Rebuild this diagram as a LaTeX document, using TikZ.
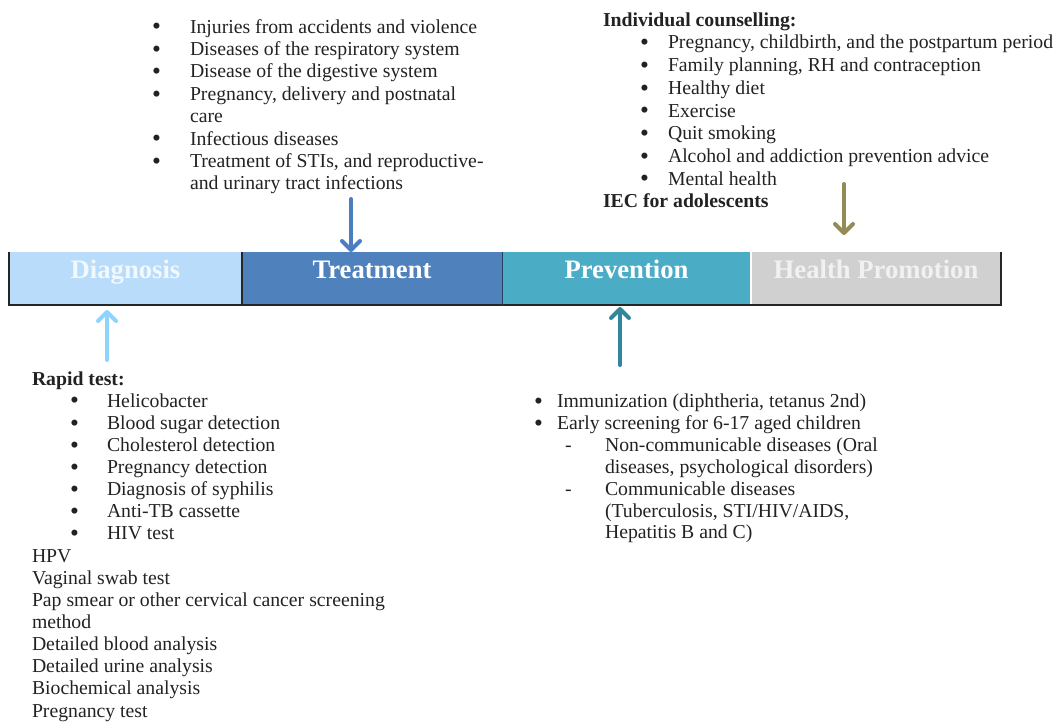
\documentclass[tikz,border=0pt]{standalone}
\usepackage{fontspec}
\setmainfont{Liberation Serif}
\usetikzlibrary{positioning,arrows.meta}
\definecolor{diagfill}{HTML}{B8DCFA}
\definecolor{treatfill}{HTML}{4F81BD}
\definecolor{prevfill}{HTML}{4BACC6}
\definecolor{promofill}{HTML}{D0D0D0}
\definecolor{diagarrow}{HTML}{8ED4FF}
\definecolor{treatarrow}{HTML}{4A7EC0}
\definecolor{prevarrow}{HTML}{31869C}
\definecolor{promoarrow}{HTML}{948A54}
\definecolor{bodytext}{HTML}{222222}
\newdimen\px \px=0.75pt
\newcommand{\bul}[1]{\makebox[#1][l]{\raisebox{-1.3pt}[0pt][0pt]{\fontsize{19}{0}\selectfont\textbullet}}}
\newcommand{\dsh}[1]{\makebox[#1][l]{-}}

\begin{document}
\begin{tikzpicture}[
  every node/.style={inner sep=0pt, outer sep=0pt},
  cell/.style={
    minimum height=53\px, text height=11\px, text depth=10\px,
    font=\fontsize{20}{22}\selectfont\bfseries
  },
  list/.style={
    anchor=base west, align=left, text=bodytext,
    font=\fontsize{14.8}{16.9}\selectfont
  },
  arr/.style={line width=3pt, line cap=round,
    -{Straight Barb[length=6.75pt, width=13.5pt, round]}},
  barline/.style={draw=black!85, line width=1.1pt},
  x=0.75pt, y=-0.75pt
]
\useasboundingbox (0,0) rectangle (1061,723);

% the bar of four stages
\node[cell, fill=diagfill, text=white!80!diagfill, minimum width=233\px, anchor=north west]
  (diag) at (9,252) {Diagnosis};
\node[cell, fill=treatfill, text=white, minimum width=260\px, right=0pt of diag] (treat) {Treatment};
\node[cell, fill=prevfill, text=white, minimum width=249\px, right=0pt of treat] (prev) {Prevention};
\node[cell, fill=promofill, text=white!70!promofill, minimum width=250\px, right=0pt of prev] (promo) {Health Promotion};

\draw[barline] (diag.north west) -- (diag.south west) -- (promo.south east) -- (promo.north east);
\draw[barline] (diag.north east) -- (diag.south east);
\draw[barline, draw=treatfill!50!black, line width=0.75pt] (treat.north east) -- (treat.south east);
\draw[white, line width=1.1pt] (prev.north east) -- ([yshift=0.6pt]prev.south east);

% treatment list (above); base = last line
\node[list, font=\fontsize{14.8}{16.8}\selectfont] (treatlist) at (152,190) {%
  \bul{38\px}Injuries from accidents and violence\\
  \bul{38\px}Diseases of the respiratory system\\
  \bul{38\px}Disease of the digestive system\\
  \bul{38\px}Pregnancy, delivery and postnatal\\
  \hspace*{38\px}care\\
  \bul{38\px}Infectious diseases\\
  \bul{38\px}Treatment of STIs, and reproductive-\\
  \hspace*{38\px}and urinary tract infections};

% health promotion list (above)
\node[list, font=\fontsize{14.8}{17.05}\selectfont] (promolist) at (603,208) {%
  \textbf{Individual counselling:}\\
  \hspace*{37\px}\bul{28\px}Pregnancy, childbirth, and the postpartum period\\
  \hspace*{37\px}\bul{28\px}Family planning, RH and contraception\\
  \hspace*{37\px}\bul{28\px}Healthy diet\\
  \hspace*{37\px}\bul{28\px}Exercise\\
  \hspace*{37\px}\bul{28\px}Quit smoking\\
  \hspace*{37\px}\bul{28\px}Alcohol and addiction prevention advice\\
  \hspace*{37\px}\bul{28\px}Mental health\\
  \textbf{IEC for adolescents}};

% diagnosis list (below)
\node[list, font=\fontsize{14.8}{16.6}\selectfont] (diaglist) at (32,717) {%
  \textbf{Rapid test:}\\
  \hspace*{38\px}\bul{37\px}Helicobacter\\
  \hspace*{38\px}\bul{37\px}Blood sugar detection\\
  \hspace*{38\px}\bul{37\px}Cholesterol detection\\
  \hspace*{38\px}\bul{37\px}Pregnancy detection\\
  \hspace*{38\px}\bul{37\px}Diagnosis of syphilis\\
  \hspace*{38\px}\bul{37\px}Anti-TB cassette\\
  \hspace*{38\px}\bul{37\px}HIV test\\
  HPV\\
  Vaginal swab test\\
  Pap smear or other cervical cancer screening\\
  method\\
  Detailed blood analysis\\
  Detailed urine analysis\\
  Biochemical analysis\\
  Pregnancy test};

% prevention list (below)
\node[list, font=\fontsize{14.8}{16.4}\selectfont] (prevlist) at (534,539) {%
  \bul{23\px}Immunization (diphtheria, tetanus 2nd)\\
  \bul{23\px}Early screening for 6-17 aged children\\
  \hspace*{31\px}\dsh{40\px}Non-communicable diseases (Oral\\
  \hspace*{71\px}diseases, psychological disorders)\\
  \hspace*{31\px}\dsh{40\px}Communicable diseases\\
  \hspace*{71\px}(Tuberculosis, STI/HIV/AIDS,\\
  \hspace*{71\px}Hepatitis B and C)};

% arrows
\coordinate (treatsrc) at (351,199);
\coordinate (promosrc) at (844,184);
\coordinate (diagsrc) at (107,360);
\coordinate (prevsrc) at (620,365);
\draw[arr, treatarrow] (treatsrc) -- (treatsrc |- treat.north);
\draw[arr, promoarrow, shorten >=12.75pt] (promosrc) -- (promosrc |- promo.north);
\draw[arr, diagarrow, shorten >=3.75pt] (diagsrc) -- (diagsrc |- diag.south);
\draw[arr, prevarrow, shorten >=1.5pt] (prevsrc) -- (prevsrc |- prev.south);

\end{tikzpicture}
\end{document}
